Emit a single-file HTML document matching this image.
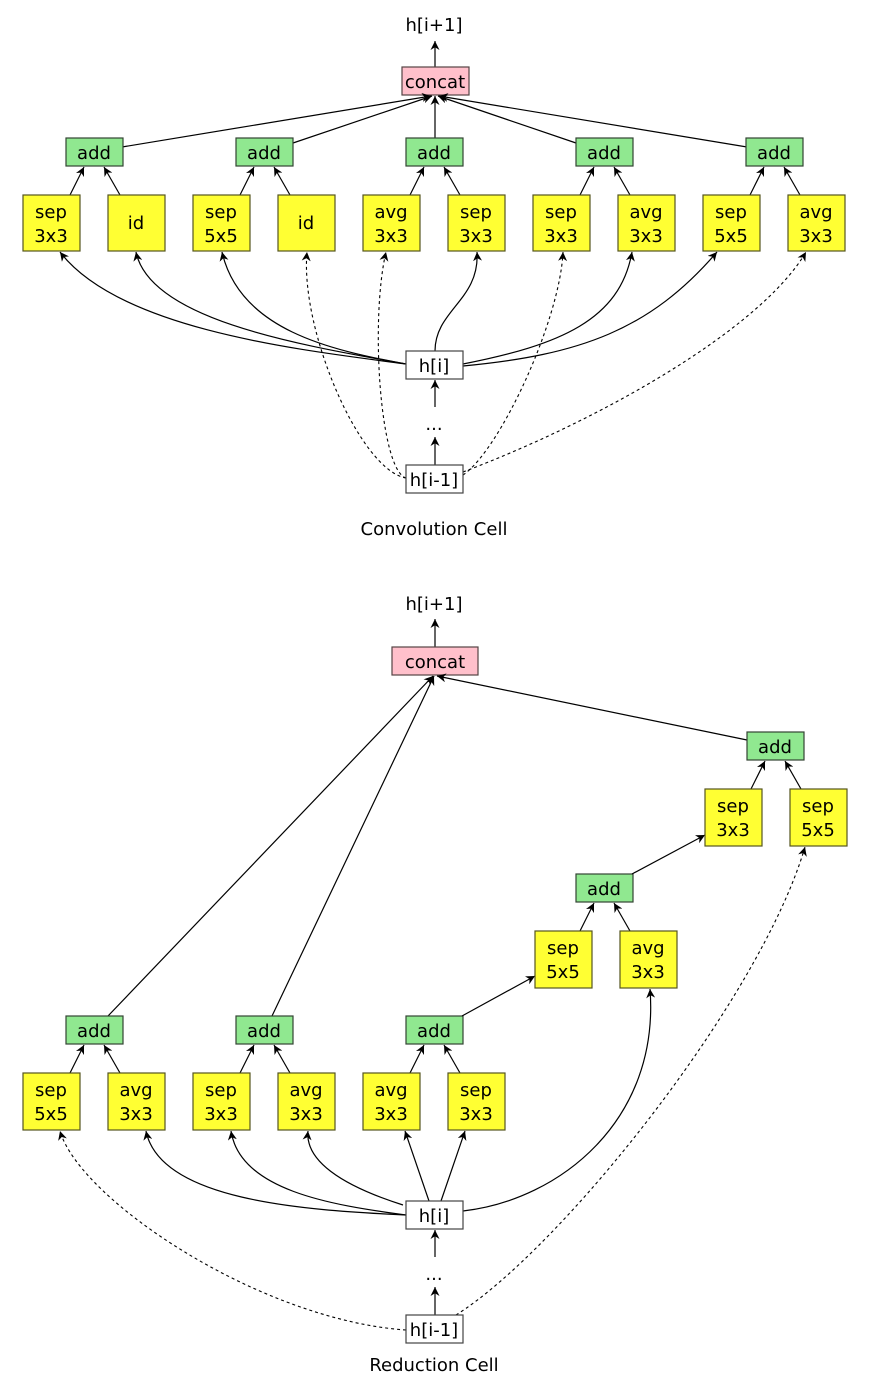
<!DOCTYPE html>
<html><head><meta charset="utf-8"><style>
html,body{margin:0;padding:0;background:#fff}
svg{display:block}
text{font-family:"DejaVu Sans","Liberation Sans",sans-serif;font-size:18px;fill:#000}
.y{fill:#ffff33;stroke:#555520;stroke-width:1.2}
.g{fill:#90e890;stroke:#334433;stroke-width:1.2}
.p{fill:#ffc0cb;stroke:#554444;stroke-width:1.2}
.w{fill:#fff;stroke:#444;stroke-width:1.2}
.e{fill:none;stroke:#000;stroke-width:1.2;marker-end:url(#a)}
.d{fill:none;stroke:#000;stroke-width:1.1;stroke-dasharray:3,3;marker-end:url(#a)}
</style></head><body>
<svg width="872" height="1380" viewBox="0 0 872 1380" xmlns="http://www.w3.org/2000/svg">
<defs><marker id="a" viewBox="0 0 10 10" refX="10" refY="5" markerWidth="9" markerHeight="9" orient="auto" markerUnits="userSpaceOnUse"><path d="M0,0 L10,5 L0,10 L3,5 z" fill="#000"/></marker></defs>

<!-- ===== Convolution cell ===== -->
<text x="434" y="31" text-anchor="middle">h[i+1]</text>
<path class="e" d="M435,67 V41"/>
<rect class="p" x="402" y="67" width="67" height="28"/>
<text x="435" y="88" text-anchor="middle">concat</text>

<!-- adds to concat -->
<path class="e" d="M122,147 L431,96"/>
<path class="e" d="M293,143 L432,96"/>
<path class="e" d="M435,138 V96"/>
<path class="e" d="M576,143 L438,96"/>
<path class="e" d="M747,147 L439,96"/>

<g>
<rect class="g" x="66" y="138" width="57" height="28"/><text x="94" y="159" text-anchor="middle">add</text>
<rect class="g" x="236" y="138" width="57" height="28"/><text x="264" y="159" text-anchor="middle">add</text>
<rect class="g" x="406" y="138" width="57" height="28"/><text x="434" y="159" text-anchor="middle">add</text>
<rect class="g" x="576" y="138" width="57" height="28"/><text x="604" y="159" text-anchor="middle">add</text>
<rect class="g" x="746" y="138" width="57" height="28"/><text x="774" y="159" text-anchor="middle">add</text>
</g>
<!-- yellow to add -->
<path class="e" d="M70,195 L84,167"/><path class="e" d="M120,195 L104,167"/>
<path class="e" d="M240,195 L254,167"/><path class="e" d="M290,195 L274,167"/>
<path class="e" d="M410,195 L424,167"/><path class="e" d="M460,195 L444,167"/>
<path class="e" d="M580,195 L594,167"/><path class="e" d="M630,195 L614,167"/>
<path class="e" d="M750,195 L764,167"/><path class="e" d="M800,195 L784,167"/>

<g>
<rect class="y" x="23" y="195" width="57" height="56"/><text x="51" y="218" text-anchor="middle">sep</text><text x="51" y="242" text-anchor="middle">3x3</text>
<rect class="y" x="108" y="195" width="57" height="56"/><text x="136" y="229" text-anchor="middle">id</text>
<rect class="y" x="193" y="195" width="57" height="56"/><text x="221" y="218" text-anchor="middle">sep</text><text x="221" y="242" text-anchor="middle">5x5</text>
<rect class="y" x="278" y="195" width="57" height="56"/><text x="306" y="229" text-anchor="middle">id</text>
<rect class="y" x="363" y="195" width="57" height="56"/><text x="391" y="218" text-anchor="middle">avg</text><text x="391" y="242" text-anchor="middle">3x3</text>
<rect class="y" x="448" y="195" width="57" height="56"/><text x="476" y="218" text-anchor="middle">sep</text><text x="476" y="242" text-anchor="middle">3x3</text>
<rect class="y" x="533" y="195" width="57" height="56"/><text x="561" y="218" text-anchor="middle">sep</text><text x="561" y="242" text-anchor="middle">3x3</text>
<rect class="y" x="618" y="195" width="57" height="56"/><text x="646" y="218" text-anchor="middle">avg</text><text x="646" y="242" text-anchor="middle">3x3</text>
<rect class="y" x="703" y="195" width="57" height="56"/><text x="731" y="218" text-anchor="middle">sep</text><text x="731" y="242" text-anchor="middle">5x5</text>
<rect class="y" x="788" y="195" width="57" height="56"/><text x="816" y="218" text-anchor="middle">avg</text><text x="816" y="242" text-anchor="middle">3x3</text>
</g>

<!-- h[i] edges -->
<path class="e" d="M406,364 C300,350 120,330 60,252"/>
<path class="e" d="M406,364 C300,345 150,320 136,252"/>
<path class="e" d="M406,364 C330,350 240,330 222,252"/>
<path class="e" d="M435,351 C435,310 480,300 477,252"/>
<path class="e" d="M463,364 C560,345 620,320 632,252"/>
<path class="e" d="M463,366 C580,355 650,330 717,252"/>
<!-- h[i-1] dashed -->
<path class="d" d="M406,478 C360,470 300,330 307,252"/>
<path class="d" d="M406,478 C380,470 370,320 386,252"/>
<path class="d" d="M463,475 C500,450 560,320 563,252"/>
<path class="d" d="M463,472 C600,420 760,330 806,252"/>

<rect class="w" x="406" y="351" width="57" height="28"/><text x="434" y="372" text-anchor="middle">h[i]</text>
<path class="e" d="M435,407 V380"/>
<text x="434" y="430" text-anchor="middle">...</text>
<path class="e" d="M435,465 V437"/>
<rect class="w" x="406" y="465" width="57" height="28"/><text x="434" y="486" text-anchor="middle">h[i-1]</text>
<text x="434" y="535" text-anchor="middle">Convolution Cell</text>

<!-- ===== Reduction cell ===== -->
<text x="434" y="610" text-anchor="middle">h[i+1]</text>
<path class="e" d="M435,647 V619"/>
<rect class="p" x="392" y="647" width="86" height="28"/>
<text x="435" y="668" text-anchor="middle">concat</text>

<path class="e" d="M108,1016 L433,676"/>
<path class="e" d="M272,1016 L434,676"/>
<path class="e" d="M747,740 L437,676"/>

<rect class="g" x="66" y="1016" width="57" height="28"/><text x="94" y="1037" text-anchor="middle">add</text>
<rect class="g" x="236" y="1016" width="57" height="28"/><text x="264" y="1037" text-anchor="middle">add</text>
<rect class="g" x="406" y="1016" width="57" height="28"/><text x="434" y="1037" text-anchor="middle">add</text>
<rect class="g" x="576" y="874" width="57" height="28"/><text x="604" y="895" text-anchor="middle">add</text>
<rect class="g" x="747" y="732" width="57" height="28"/><text x="775" y="753" text-anchor="middle">add</text>

<path class="e" d="M462,1016 L535,976"/>
<path class="e" d="M632,874 L705,835"/>

<path class="e" d="M70,1073 L84,1045"/><path class="e" d="M120,1073 L104,1045"/>
<path class="e" d="M240,1073 L254,1045"/><path class="e" d="M290,1073 L274,1045"/>
<path class="e" d="M410,1073 L424,1045"/><path class="e" d="M460,1073 L444,1045"/>
<path class="e" d="M580,931 L594,903"/><path class="e" d="M630,931 L614,903"/>
<path class="e" d="M751,789 L765,761"/><path class="e" d="M801,789 L785,761"/>

<rect class="y" x="23" y="1073" width="57" height="57"/><text x="51" y="1096" text-anchor="middle">sep</text><text x="51" y="1120" text-anchor="middle">5x5</text>
<rect class="y" x="108" y="1073" width="57" height="57"/><text x="136" y="1096" text-anchor="middle">avg</text><text x="136" y="1120" text-anchor="middle">3x3</text>
<rect class="y" x="193" y="1073" width="57" height="57"/><text x="221" y="1096" text-anchor="middle">sep</text><text x="221" y="1120" text-anchor="middle">3x3</text>
<rect class="y" x="278" y="1073" width="57" height="57"/><text x="306" y="1096" text-anchor="middle">avg</text><text x="306" y="1120" text-anchor="middle">3x3</text>
<rect class="y" x="363" y="1073" width="57" height="57"/><text x="391" y="1096" text-anchor="middle">avg</text><text x="391" y="1120" text-anchor="middle">3x3</text>
<rect class="y" x="448" y="1073" width="57" height="57"/><text x="476" y="1096" text-anchor="middle">sep</text><text x="476" y="1120" text-anchor="middle">3x3</text>
<rect class="y" x="535" y="931" width="57" height="57"/><text x="563" y="954" text-anchor="middle">sep</text><text x="563" y="978" text-anchor="middle">5x5</text>
<rect class="y" x="620" y="931" width="57" height="57"/><text x="648" y="954" text-anchor="middle">avg</text><text x="648" y="978" text-anchor="middle">3x3</text>
<rect class="y" x="705" y="789" width="57" height="57"/><text x="733" y="812" text-anchor="middle">sep</text><text x="733" y="836" text-anchor="middle">3x3</text>
<rect class="y" x="790" y="789" width="57" height="57"/><text x="818" y="812" text-anchor="middle">sep</text><text x="818" y="836" text-anchor="middle">5x5</text>

<path class="e" d="M406,1215 C300,1210 160,1200 146,1131"/>
<path class="e" d="M406,1215 C330,1205 240,1190 231,1131"/>
<path class="e" d="M403,1205 C340,1185 305,1160 308,1131"/>
<path class="e" d="M429,1201 L405,1131"/>
<path class="e" d="M441,1201 L465,1131"/>
<path class="e" d="M463,1211 C560,1200 660,1120 650,989"/>
<path class="d" d="M406,1330 C260,1320 80,1200 60,1131"/>
<path class="d" d="M456,1315 C560,1250 760,1000 805,847"/>

<rect class="w" x="406" y="1201" width="57" height="28"/><text x="434" y="1222" text-anchor="middle">h[i]</text>
<path class="e" d="M435,1257 V1230"/>
<text x="434" y="1280" text-anchor="middle">...</text>
<path class="e" d="M435,1315 V1287"/>
<rect class="w" x="406" y="1315" width="57" height="28"/><text x="434" y="1336" text-anchor="middle">h[i-1]</text>
<text x="434" y="1371" text-anchor="middle">Reduction Cell</text>
</svg>
</body></html>
